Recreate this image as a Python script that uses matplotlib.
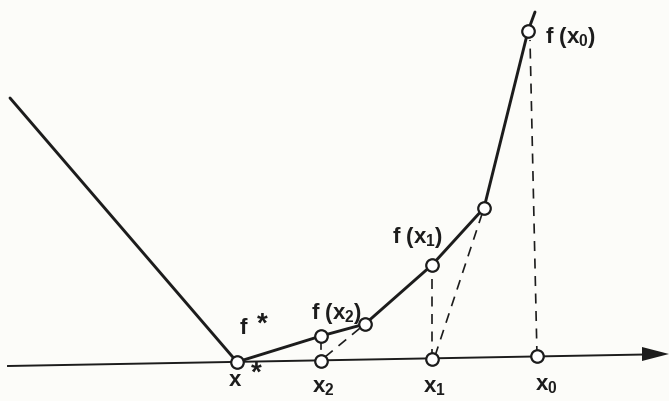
import matplotlib.pyplot as plt

plt.rcParams['mathtext.default'] = 'regular'
plt.rcParams['font.family'] = ['Liberation Sans', 'DejaVu Sans']

H = 401  # figure height in px, used to flip y so values grow upward

# piecewise linear function f (vertices)
curve_x = [10, 237, 321, 365, 432, 484, 528, 535]
curve_y = [H - 98, H - 362, H - 336, H - 324, H - 265, H - 208, H - 31, H - 12]

# iterates on the axis and their function values
iter_x = [537, 432, 321, 237]
iter_axis_y = [H - 356, H - 359, H - 361, H - 362]
iter_f_x = [528, 432, 321]
iter_f_y = [H - 31, H - 265, H - 336]

# kinks of f hit by the secant steps
kink_x = [365, 484]
kink_y = [H - 324, H - 208]

# horizontal axis (slightly tilted, as drawn)
axis_x = [8, 645]
axis_y = [H - 366, H - 354.5]

ink = '#1c1c1c'

fig = plt.figure(figsize=(6.69, 4.01), dpi=100, facecolor='#fcfcf9')
ax = fig.add_axes([0, 0, 1, 1])
ax.set_xlim(0, 669)
ax.set_ylim(0, H)
ax.axis('off')

ax.plot(axis_x, axis_y, color=ink, lw=1.4)
ax.fill([642, 669, 642], [H - 347, H - 354, H - 361], color=ink, lw=0)

ax.plot(curve_x, curve_y, color=ink, lw=2.1, solid_capstyle='round')

# dashed construction lines
dash = dict(color=ink, lw=1.2, ls=(0, (6, 4.5)))
ax.plot([537, 530], [H - 356, H - 40], **dash)
ax.plot([432, 432], [H - 359, H - 265], **dash)
ax.plot([435, 484], [H - 356, H - 208], **dash)
ax.plot([325, 365], [H - 357, H - 324], **dash)
ax.plot([321, 321], [H - 349, H - 342], color=ink, lw=1.2)

mk = dict(ms=9, mfc='white', mec=ink, mew=1.6, ls='none', marker='o')
ax.plot(iter_x, iter_axis_y, **mk)
ax.plot(iter_f_x, iter_f_y, **mk)
ax.plot(kink_x, kink_y, **mk)

fs = 16
txt = dict(fontsize=fs, color=ink, fontweight='bold', va='center')
star = dict(fontsize=20, color=ink, fontweight='bold', va='center', ha='center')
ax.text(243, H - 328, 'f', ha='center', **txt)
ax.text(262, H - 325, '*', **star)
ax.text(235, H - 381, 'x', ha='center', **txt)
ax.text(256, H - 374, '*', **star)
ax.text(337, H - 314, 'f (x$_2$)', ha='center', **txt)
ax.text(323, H - 388, 'x$_2$', ha='center', **txt)
ax.text(418, H - 238, 'f (x$_1$)', ha='center', **txt)
ax.text(434, H - 388, 'x$_1$', ha='center', **txt)
ax.text(545, H - 37, 'f (x$_0$)', ha='left', **txt)
ax.text(546, H - 385, 'x$_0$', ha='center', **txt)

fig.savefig('out.png', dpi=100, facecolor=fig.get_facecolor())
